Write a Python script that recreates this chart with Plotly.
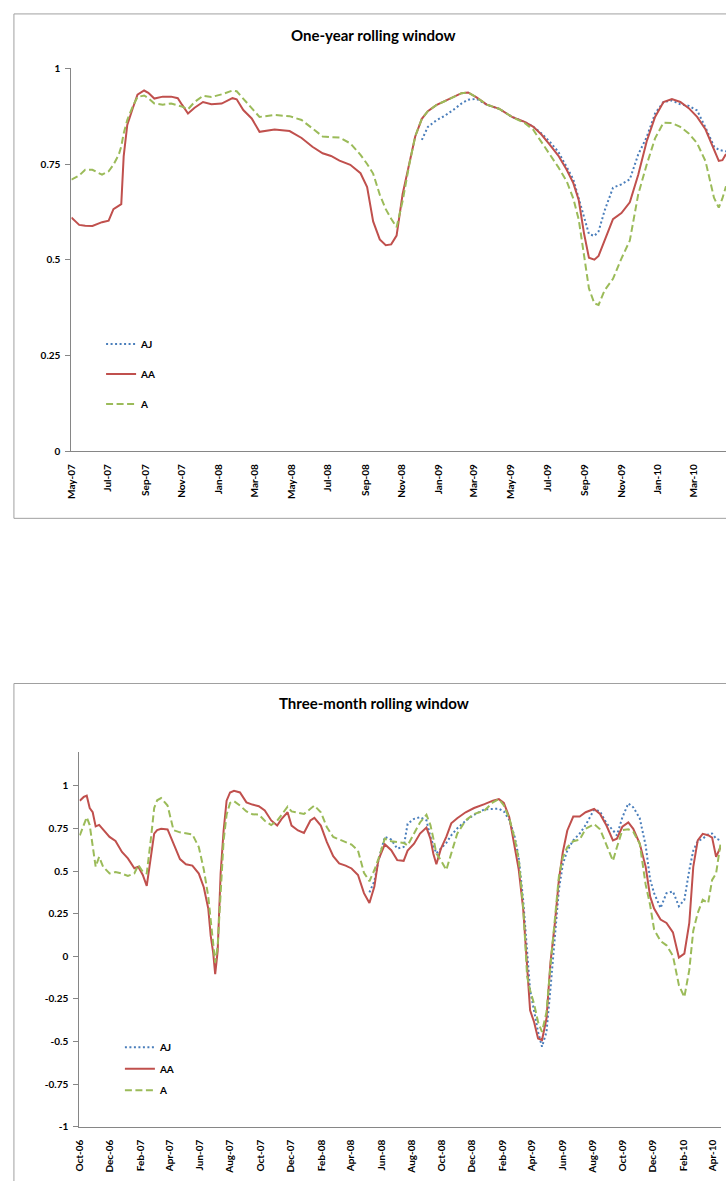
import plotly.graph_objects as go

# ---------------- One-year rolling window ----------------
dates_1y = [
    "2007-05-01", "2007-05-14", "2007-05-24", "2007-06-05", "2007-06-21", "2007-07-02", "2007-07-10", "2007-07-19",
    "2007-07-23", "2007-07-27", "2007-08-02", "2007-08-11", "2007-08-19", "2007-08-30", "2007-09-06", "2007-09-16",
    "2007-09-30", "2007-10-14", "2007-10-25", "2007-11-01", "2007-11-11", "2007-11-22", "2007-12-06", "2007-12-20",
    "2008-01-06", "2008-01-24", "2008-01-31", "2008-02-11", "2008-02-25", "2008-03-09", "2008-04-03", "2008-04-28",
    "2008-05-18", "2008-06-05", "2008-06-22", "2008-07-06", "2008-07-20", "2008-08-07", "2008-08-24", "2008-09-04",
    "2008-09-14", "2008-09-25", "2008-10-05", "2008-10-14", "2008-10-23", "2008-11-02", "2008-11-13", "2008-11-23",
    "2008-12-04", "2008-12-14", "2008-12-28", "2009-01-11", "2009-01-25", "2009-02-08", "2009-02-19", "2009-03-05",
    "2009-03-22", "2009-04-12", "2009-05-03", "2009-05-24", "2009-06-07", "2009-06-21", "2009-07-05", "2009-07-19",
    "2009-08-02", "2009-08-13", "2009-08-22", "2009-08-31", "2009-09-08", "2009-09-17", "2009-09-24", "2009-10-04",
    "2009-10-18", "2009-11-01", "2009-11-15", "2009-11-29", "2009-12-13", "2009-12-27", "2010-01-10", "2010-01-24",
    "2010-02-07", "2010-02-21", "2010-03-07", "2010-03-21", "2010-04-04", "2010-04-12", "2010-04-18", "2010-04-24",
]
aa_1y = [
    0.610, 0.591, 0.589, 0.588, 0.598, 0.602, 0.632, 0.640, 0.645, 0.770,
    0.852, 0.895, 0.931, 0.942, 0.936, 0.921, 0.926, 0.926, 0.922, 0.905,
    0.882, 0.897, 0.912, 0.906, 0.908, 0.922, 0.919, 0.891, 0.869, 0.834,
    0.840, 0.836, 0.818, 0.795, 0.778, 0.771, 0.759, 0.748, 0.726, 0.690,
    0.600, 0.553, 0.538, 0.540, 0.563, 0.671, 0.748, 0.822, 0.868, 0.888,
    0.904, 0.914, 0.925, 0.935, 0.937, 0.924, 0.905, 0.894, 0.873, 0.860,
    0.848, 0.827, 0.800, 0.772, 0.735, 0.700, 0.656, 0.567, 0.505, 0.500,
    0.510, 0.550, 0.606, 0.622, 0.650, 0.722, 0.809, 0.873, 0.912, 0.920,
    0.912, 0.896, 0.873, 0.840, 0.790, 0.758, 0.760, 0.776,
]
a_1y = [
    0.709, 0.720, 0.735, 0.735, 0.722, 0.731, 0.748, 0.775, 0.796, 0.830,
    0.865, 0.900, 0.925, 0.929, 0.922, 0.908, 0.905, 0.908, 0.903, 0.900,
    0.893, 0.912, 0.928, 0.925, 0.932, 0.942, 0.940, 0.921, 0.896, 0.873,
    0.878, 0.875, 0.865, 0.843, 0.822, 0.820, 0.819, 0.804, 0.774, 0.750,
    0.725, 0.670, 0.632, 0.607, 0.585, 0.653, 0.748, 0.822, 0.868, 0.888,
    0.904, 0.914, 0.925, 0.935, 0.937, 0.924, 0.905, 0.894, 0.873, 0.857,
    0.840, 0.808, 0.775, 0.742, 0.705, 0.660, 0.605, 0.515, 0.425, 0.386,
    0.382, 0.420, 0.450, 0.503, 0.550, 0.671, 0.748, 0.817, 0.858, 0.857,
    0.847, 0.830, 0.804, 0.757, 0.662, 0.636, 0.660, 0.692,
]
aj_1y_start = 48  # AJ series is first visible from Dec-08
aj_1y = [
    0.813, 0.847, 0.864, 0.876, 0.891, 0.908, 0.918, 0.920, 0.905, 0.894,
    0.873, 0.860, 0.848, 0.830, 0.808, 0.782, 0.742, 0.710, 0.660, 0.610,
    0.567, 0.562, 0.574, 0.628, 0.688, 0.697, 0.710, 0.775, 0.820, 0.882,
    0.912, 0.916, 0.906, 0.902, 0.890, 0.845, 0.796, 0.787, 0.785, 0.783,
]
ticks_1y = ["2007-05-01", "2007-07-01", "2007-09-01", "2007-11-01", "2008-01-01", "2008-03-01",
            "2008-05-01", "2008-07-01", "2008-09-01", "2008-11-01", "2009-01-01", "2009-03-01",
            "2009-05-01", "2009-07-01", "2009-09-01", "2009-11-01", "2010-01-01", "2010-03-01"]
ticktext_1y = ["May-07", "Jul-07", "Sep-07", "Nov-07", "Jan-08", "Mar-08", "May-08", "Jul-08", "Sep-08",
               "Nov-08", "Jan-09", "Mar-09", "May-09", "Jul-09", "Sep-09", "Nov-09", "Jan-10", "Mar-10"]
yticks_1y = [0, 0.25, 0.5, 0.75, 1]
yticktext_1y = ["0", "0.25", "0.5", "0.75", "1"]

# ---------------- Three-month rolling window ----------------
dates_3m = [
    "2006-10-02", "2006-10-10", "2006-10-16", "2006-10-22", "2006-10-28", "2006-11-03", "2006-11-10", "2006-11-18",
    "2006-12-01", "2006-12-13", "2006-12-26", "2007-01-07", "2007-01-20", "2007-01-28", "2007-02-06", "2007-02-14",
    "2007-02-22", "2007-03-01", "2007-03-07", "2007-03-15", "2007-03-28", "2007-04-09", "2007-04-22", "2007-05-04",
    "2007-05-17", "2007-05-30", "2007-06-09", "2007-06-18", "2007-06-23", "2007-06-28", "2007-07-02", "2007-07-07",
    "2007-07-13", "2007-07-19", "2007-07-25", "2007-08-01", "2007-08-09", "2007-08-21", "2007-09-03", "2007-09-15",
    "2007-09-28", "2007-10-10", "2007-10-23", "2007-11-04", "2007-11-13", "2007-11-25", "2007-12-03", "2007-12-16",
    "2007-12-28", "2008-01-10", "2008-01-18", "2008-01-31", "2008-02-12", "2008-02-25", "2008-03-08", "2008-03-21",
    "2008-04-02", "2008-04-15", "2008-04-27", "2008-05-08", "2008-05-18", "2008-05-26", "2008-06-08", "2008-06-21",
    "2008-07-03", "2008-07-16", "2008-07-24", "2008-08-06", "2008-08-18", "2008-08-31", "2008-09-08", "2008-09-14",
    "2008-09-20", "2008-09-29", "2008-10-10", "2008-10-20", "2008-11-01", "2008-11-18", "2008-12-05", "2008-12-26",
    "2009-01-12", "2009-01-24", "2009-02-03", "2009-02-14", "2009-02-25", "2009-03-05", "2009-03-14", "2009-03-22",
    "2009-03-28", "2009-04-05", "2009-04-13", "2009-04-21", "2009-04-30", "2009-05-08", "2009-05-17", "2009-05-25",
    "2009-06-02", "2009-06-11", "2009-06-23", "2009-07-06", "2009-07-18", "2009-08-04", "2009-08-16", "2009-08-29",
    "2009-09-11", "2009-09-19", "2009-09-30", "2009-10-12", "2009-10-22", "2009-11-04", "2009-11-16", "2009-11-25",
    "2009-12-03", "2009-12-16", "2009-12-28", "2010-01-10", "2010-01-22", "2010-02-02", "2010-02-12", "2010-02-20",
    "2010-03-01", "2010-03-11", "2010-03-22", "2010-03-30", "2010-04-07", "2010-04-16",
]
aa_3m = [
    0.913, 0.935, 0.942, 0.870, 0.845, 0.762, 0.771, 0.742, 0.700, 0.676,
    0.612, 0.574, 0.516, 0.525, 0.477, 0.413, 0.564, 0.719, 0.740, 0.748,
    0.744, 0.660, 0.570, 0.540, 0.532, 0.485, 0.405, 0.280, 0.120, 0.020,
    -0.105, 0.030, 0.486, 0.738, 0.913, 0.961, 0.971, 0.961, 0.903, 0.890,
    0.880, 0.855, 0.797, 0.767, 0.806, 0.845, 0.767, 0.738, 0.723, 0.797,
    0.812, 0.767, 0.671, 0.587, 0.545, 0.532, 0.515, 0.477, 0.370, 0.312,
    0.409, 0.564, 0.657, 0.622, 0.564, 0.560, 0.620, 0.660, 0.720, 0.755,
    0.690, 0.600, 0.540, 0.630, 0.700, 0.780, 0.810, 0.845, 0.870, 0.893,
    0.913, 0.922, 0.900, 0.816, 0.650, 0.510, 0.280, -0.037, -0.318, -0.386,
    -0.483, -0.492, -0.366, -0.037, 0.196, 0.448, 0.612, 0.738, 0.820, 0.820,
    0.845, 0.864, 0.835, 0.767, 0.680, 0.690, 0.760, 0.785, 0.748, 0.661,
    0.525, 0.351, 0.280, 0.215, 0.195, 0.140, -0.008, 0.015, 0.196, 0.525,
    0.680, 0.718, 0.710, 0.696, 0.583, 0.641,
]
a_3m = [
    0.709, 0.777, 0.816, 0.770, 0.640, 0.525, 0.583, 0.525, 0.486, 0.494,
    0.485, 0.471, 0.486, 0.535, 0.496, 0.486, 0.680, 0.870, 0.915, 0.928,
    0.884, 0.740, 0.727, 0.722, 0.715, 0.640, 0.510, 0.351, 0.196, 0.050,
    -0.037, 0.060, 0.390, 0.680, 0.830, 0.900, 0.910, 0.884, 0.850, 0.833,
    0.831, 0.795, 0.770, 0.795, 0.830, 0.878, 0.850, 0.840, 0.835, 0.865,
    0.884, 0.845, 0.758, 0.700, 0.685, 0.670, 0.655, 0.620, 0.490, 0.440,
    0.506, 0.570, 0.690, 0.675, 0.671, 0.665, 0.650, 0.725, 0.785, 0.830,
    0.770, 0.690, 0.603, 0.564, 0.506, 0.603, 0.719, 0.797, 0.835, 0.855,
    0.903, 0.922, 0.885, 0.810, 0.690, 0.570, 0.293, -0.120, -0.200, -0.280,
    -0.386, -0.444, -0.328, -0.056, 0.234, 0.467, 0.580, 0.640, 0.675, 0.684,
    0.748, 0.775, 0.745, 0.650, 0.560, 0.640, 0.740, 0.745, 0.730, 0.661,
    0.420, 0.300, 0.157, 0.089, 0.064, 0.002, -0.170, -0.240, -0.080, 0.150,
    0.254, 0.331, 0.312, 0.448, 0.486, 0.661,
]
aj_3m_start = 59  # AJ series is first visible from May-08
aj_3m = [
    0.375, 0.440, 0.560, 0.700, 0.684, 0.632, 0.641, 0.777, 0.806, 0.816,
    0.797, 0.700, 0.650, 0.603, 0.632, 0.665, 0.710, 0.750, 0.795, 0.830,
    0.862, 0.866, 0.866, 0.850, 0.800, 0.700, 0.580, 0.331, 0.000, -0.200,
    -0.320, -0.444, -0.531, -0.444, -0.192, 0.138, 0.390, 0.540, 0.620, 0.680,
    0.720, 0.770, 0.860, 0.850, 0.780, 0.740, 0.709, 0.815, 0.897, 0.874,
    0.810, 0.650, 0.450, 0.370, 0.283, 0.370, 0.380, 0.293, 0.331, 0.506,
    0.620, 0.675, 0.690, 0.715, 0.720, 0.690, 0.680,
]
ticks_3m = ["2006-10-01", "2006-12-01", "2007-02-01", "2007-04-01", "2007-06-01", "2007-08-01",
            "2007-10-01", "2007-12-01", "2008-02-01", "2008-04-01", "2008-06-01", "2008-08-01",
            "2008-10-01", "2008-12-01", "2009-02-01", "2009-04-01", "2009-06-01", "2009-08-01",
            "2009-10-01", "2009-12-01", "2010-02-01", "2010-04-01"]
ticktext_3m = ["Oct-06", "Dec-06", "Feb-07", "Apr-07", "Jun-07", "Aug-07", "Oct-07", "Dec-07",
               "Feb-08", "Apr-08", "Jun-08", "Aug-08", "Oct-08", "Dec-08", "Feb-09", "Apr-09",
               "Jun-09", "Aug-09", "Oct-09", "Dec-09", "Feb-10", "Apr-10"]
yticks_3m = [-1, -0.75, -0.5, -0.25, 0, 0.25, 0.5, 0.75, 1]
yticktext_3m = ["-1", "-0.75", "-0.5", "-0.25", "0", "0.25", "0.5", "0.75", "1"]

series_names = ["AJ", "AA", "A"]
series_colors = ["#4a7ebb", "#c0504d", "#9bbb59"]
series_dash = ["2px,2.5px", "solid", "7px,3.5px"]

assert len(dates_1y) == len(aa_1y) == len(a_1y) == aj_1y_start + len(aj_1y)
assert len(dates_3m) == len(aa_3m) == len(a_3m) == aj_3m_start + len(aj_3m)

# ---------------- Figure ----------------
W, H = 726, 1187
FONT = "Lato, 'Open Sans', sans-serif"
AXIS_COL = "#868686"
BORDER_COL = "#a0a0a0"

fig = go.Figure()

top_x = [dates_1y[aj_1y_start:], dates_1y, dates_1y]
top_y = [aj_1y, aa_1y, a_1y]
bot_x = [dates_3m[aj_3m_start:], dates_3m, dates_3m]
bot_y = [aj_3m, aa_3m, a_3m]

for i in range(3):
    fig.add_trace(go.Scatter(
        x=top_x[i], y=top_y[i], name=series_names[i], mode="lines",
        line=dict(color=series_colors[i], width=2, dash=series_dash[i]),
        xaxis="x", yaxis="y", legend="legend", legendgroup="t" + str(i),
    ))
for i in range(3):
    fig.add_trace(go.Scatter(
        x=bot_x[i], y=bot_y[i], name=series_names[i], mode="lines",
        line=dict(color=series_colors[i], width=2, dash=series_dash[i]),
        xaxis="x2", yaxis="y2", legend="legend2", legendgroup="b" + str(i),
    ))


def px_x(v):
    return v / W


def px_y(v):
    return 1 - v / H


tickfont = dict(family=FONT, size=10, color="#000000", weight="bold")

common_x = dict(type="date", showline=True, linecolor=AXIS_COL, linewidth=1, showgrid=False,
                zeroline=False, ticks="", tickangle=-90, tickfont=tickfont, ticklabelstandoff=8)
common_y = dict(showline=True, linecolor=AXIS_COL, linewidth=1, showgrid=False, zeroline=False,
                ticks="outside", ticklen=5, tickcolor=AXIS_COL, tickfont=tickfont, ticklabelstandoff=3)

fig.update_layout(
    width=W, height=H,
    margin=dict(l=0, r=0, t=0, b=0),
    paper_bgcolor="white", plot_bgcolor="white",
    font=dict(family=FONT),
    xaxis=dict(common_x, domain=[px_x(65), 1.0], range=["2007-05-01", "2010-04-24"],
               tickmode="array", tickvals=ticks_1y, ticktext=ticktext_1y, anchor="y"),
    yaxis=dict(common_y, domain=[px_y(449), px_y(62)], range=[0, 1],
               tickmode="array", tickvals=yticks_1y, ticktext=yticktext_1y, anchor="x"),
    xaxis2=dict(common_x, domain=[px_x(73), px_x(721)], range=["2006-10-01", "2010-04-17"],
                tickmode="array", tickvals=ticks_3m, ticktext=ticktext_3m, anchor="y2"),
    yaxis2=dict(common_y, domain=[px_y(1132), px_y(753)], range=[-1, 1.2],
                tickmode="array", tickvals=yticks_3m, ticktext=yticktext_3m, anchor="x2"),
    legend=dict(x=px_x(95), y=px_y(326), xanchor="left", yanchor="top", bgcolor="rgba(0,0,0,0)",
                font=dict(family=FONT, size=10, color="#000000", weight="bold"),
                tracegroupgap=11, itemclick=False, itemdoubleclick=False),
    legend2=dict(x=px_x(114), y=px_y(1037), xanchor="left", yanchor="top", bgcolor="rgba(0,0,0,0)",
                 font=dict(family=FONT, size=10, color="#000000", weight="bold"),
                 tracegroupgap=2.5, itemclick=False, itemdoubleclick=False),
    showlegend=True,
)

# Chart titles
fig.add_annotation(text="One-year rolling window", x=px_x(370), y=px_y(28), xref="paper", yref="paper",
                   showarrow=False, xanchor="center", yanchor="middle",
                   font=dict(family=FONT, size=15, color="#000000", weight="bold"))
fig.add_annotation(text="Three-month rolling window", x=px_x(371), y=px_y(704), xref="paper", yref="paper",
                   showarrow=False, xanchor="center", yanchor="middle",
                   font=dict(family=FONT, size=15, color="#000000", weight="bold"))

# Chart-area borders (Excel chart frames)
border = dict(color=BORDER_COL, width=1)
fig.add_shape(type="line", xref="paper", yref="paper", x0=px_x(7), x1=1.0, y0=px_y(7), y1=px_y(7), line=border)
fig.add_shape(type="line", xref="paper", yref="paper", x0=px_x(7), x1=px_x(7), y0=px_y(7), y1=px_y(517), line=border)
fig.add_shape(type="line", xref="paper", yref="paper", x0=px_x(7), x1=1.0, y0=px_y(517), y1=px_y(517), line=border)
fig.add_shape(type="line", xref="paper", yref="paper", x0=px_x(7), x1=1.0, y0=px_y(684), y1=px_y(684), line=border)
fig.add_shape(type="line", xref="paper", yref="paper", x0=px_x(7), x1=px_x(7), y0=px_y(684), y1=0, line=border)

# Pin the 726x1187 figure to the top-left corner of the page, with no page margin
post_js = (
    "document.documentElement.style.margin='0';document.documentElement.style.padding='0';"
    "document.documentElement.style.overflow='hidden';"
    "document.body.style.margin='0';document.body.style.padding='0';document.body.style.overflow='hidden';"
    "var gd=document.getElementById('{plot_id}');"
    "gd.style.position='fixed';gd.style.left='0px';gd.style.top='0px';"
)
fig.write_html("out.html", config={"displayModeBar": False}, post_script=post_js)
